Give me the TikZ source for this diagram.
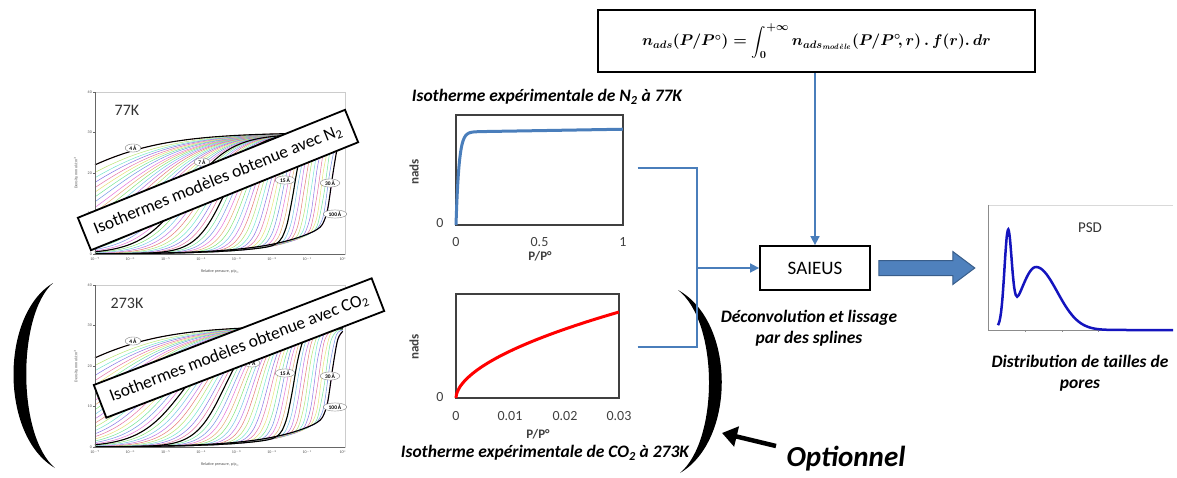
\RequirePackage{fix-cm}
\documentclass[tikz,border=0pt]{standalone}
\usepackage[no-math]{fontspec}
\newfontfamily\calibri{Carlito}
\usepackage{amsmath}
\usepackage{tikz}
\usetikzlibrary{shapes.geometric, positioning, arrows.meta, calc}
\definecolor{linkblue}{RGB}{74,126,187}
\definecolor{arrowfill}{RGB}{79,129,189}
\definecolor{arrowedge}{RGB}{56,93,138}
\definecolor{psdblue}{RGB}{20,20,190}
\newcommand\fsz[1]{\fontsize{#1}{#1}\selectfont}
\newsavebox\adsbox

\begin{document}
\sbox\adsbox{\fsz{15.5}\boldmath$n_{ads}(P/P^{\circ}) = \displaystyle\int_0^{+\infty} n_{ads_{\mathit{mod\grave{e}le}}}(P/P^{\circ}\!,r)\,.\,f(r).\,dr$}%
\begin{tikzpicture}[x=1pt, y=-1pt,
    declare function={lg(\za)=1/(1+exp(-max(-9,min(9,\za))));
      isostep(\ta)=-1.5+8.2*\ta^0.7; isow(\ta)=1.4*(1-\ta)^2+0.08;
      iso(\xa,\ta)=(30-\ta)*lg((\xa-isostep(\ta))/isow(\ta))
        +10*\ta^1.3*exp((\xa-7)/1.4)*(1-lg((\xa-isostep(\ta))/isow(\ta)));},
    link/.style={draw=linkblue, line width=1.6},
    tinytxt/.style={font=\calibri\fsz{4}, text=black!70, inner sep=1},
    poreoval/.style={ellipse, draw=gray, fill=white, inner xsep=2, inner ysep=0.5, font=\calibri\bfseries\fsz{5.5}},
    modelbox/.style={draw, line width=1.8, fill=white, inner xsep=11, minimum height=35, font=\calibri\fsz{17.5}},
    ptitle/.style={font=\calibri\bfseries\itshape\fsz{17.5}},
    ticklab/.style={font=\calibri\fsz{14}, text=black!75},
    axlab/.style={font=\calibri\bfseries\fsz{13}, text=black!75},
    plotframe/.style={draw=black!75, line width=1.3, inner sep=0},
    caption/.style={font=\calibri\bfseries\itshape\fontsize{17.5}{21}\selectfont, align=center},
    bigarrow/.style={fill=arrowfill, draw=arrowedge, line width=1},
]
\useasboundingbox (0,0) rectangle (1177,477);

% model isotherm families
\foreach \oy/\temp/\sevx/\sevy in {0/77K/202/162, 193/273K/252/170} {
  \begin{scope}[shift={(0,\oy)}]
    \draw[black!20] (95,92) rectangle (345,254);
    \foreach \k in {0,...,60} {
      \pgfmathsetmacro\chue{mod(\k*0.231,1)}
      \definecolor{isoc}{hsb}{\chue,0.5,0.9}
      \draw[isoc, line width=0.5] plot[domain=0:7, samples=40, smooth] ({95+35.4*\x}, {254-4.05*iso(\x,\k/60)});
    }
    \foreach \k in {0,22,31,49,60}
      \draw[black, line width=1.1] plot[domain=0:7, samples=50, smooth] ({95+35.4*\x}, {254-4.05*iso(\x,\k/60)});
    \draw[black!60] (95,92) -- (95,254) -- (345,254);
    \foreach \v [count=\i from 0] in {0,10,20,30,40} {
      \draw[black!60] (93,{254-4.05*\v}) -- (95,{254-4.05*\v});
      \node[tinytxt, left] (yt\oy-\i) at (93,{254-4.05*\v}) {\v};
    }
    \foreach \e [count=\i from 0] in {-7,...,0}
      \node[tinytxt, below] (xt\oy-\i) at ({95+35.4*\i},256) {10$^{\e}$};
    \node[tinytxt, rotate=90] (ylab\oy) at (76,173) {Density, mmol/cm$^3$};
    \node[tinytxt] (xlab\oy) at (220,272) {Relative pressure, p/p$_0$};
    \foreach \lab/\px/\py in {4/133/148, 7/\sevx/\sevy, 15/285/180, 30/330/183, 100/335/214}
      \node[poreoval] (pore\lab-\oy) at (\px,\py) {\lab\,Å};
    \node[font=\calibri\fsz{16}, text=black!80] (temp\oy) at (127,110) {\temp};
  \end{scope}
}
\node[modelbox, rotate=22] (modn2) at (218,180) {Isothermes modèles obtenue avec N\textsubscript{2}};
\node[modelbox, rotate=21] (modco2) at (239,348) {Isothermes modèles obtenue avec CO\textsubscript{2}};

% parentheses
\fill (53,283) .. controls (0,315) and (0,436) .. (55,468) .. controls (17,436) and (17,315) .. (53,283) -- cycle;
\fill (678,290) .. controls (736,322) and (736,440) .. (680,473) .. controls (719,440) and (719,322) .. (678,290) -- cycle;

% experimental isotherms
\node[plotframe, minimum width=167, minimum height=110] (n2plot) at (539.5,170) {};
\draw[linkblue, line width=3] plot[domain=0:1, samples=60, smooth] ({456+167*\x*\x}, {225-93*(1-exp(-min(\x*\x/0.018,9))+0.03*\x*\x)});
\node[ptitle] (n2title) at (547,97) {Isotherme expérimentale de N\textsubscript{2} à 77K};
\node[ticklab, left] (n2y0) at (447,223) {0};
\foreach \v/\px [count=\i] in {0/456, 0.5/539.5, 1/623}
  \node[ticklab] (n2x\i) at (\px,242) {\v};
\node[axlab] (n2xlab) at (540,256) {P/P°};
\node[axlab, rotate=90] (n2ylab) at (414,172) {nads};

\node[plotframe, minimum width=163, minimum height=104] (co2plot) at (537.5,346) {};
\draw[red, line width=3] (456,398) -- plot[domain=0.05:1, samples=40, smooth] ({456+163*\x*\x}, {398-86*\x^1.1});
\node[ptitle] (co2title) at (545,453) {Isotherme expérimentale de CO\textsubscript{2} à 273K};
\node[ticklab, left] (co2y0) at (447,397) {0};
\foreach \v/\px [count=\i] in {0/456, 0.01/510, 0.02/565, 0.03/619}
  \node[ticklab] (co2x\i) at (\px,416) {\v};
\node[axlab] (co2xlab) at (538,434) {P/P°};
\node[axlab, rotate=90] (co2ylab) at (414,347) {nads};

% formula and SAIEUS
\node[draw, line width=2, minimum width=437, minimum height=62] (formula) at (816.5,41) {\usebox\adsbox};
\node[draw, line width=1.8, minimum width=110, minimum height=44, font=\calibri\fsz{19}] (saieus) at (815,268) {SAIEUS};
\node[caption] (deconv) at (809,328) {Déconvolution et lissage\\par des splines};

\coordinate (jct) at (697,268);
\draw[link] ($(n2plot.east)+(14,-2)$) -| (jct);
\draw[link] ($(co2plot.east)+(18,1)$) -| (jct);
\draw[link, -{Triangle[length=9pt,width=9pt]}] (jct) -- (jct -| saieus.west);
\draw[link, -{Triangle[length=9pt,width=9pt]}] (formula.south -| saieus) -- (saieus.north);

% pore size distribution
\node[minimum width=184, minimum height=125, inner sep=0] (psdplot) at (1081,267.5) {};
\path (saieus.east) ++(8,0) coordinate (bigtail);
\coordinate (bighead) at ($(psdplot.west |- saieus.east)+(-14,0)$);
\filldraw[bigarrow] ($(bigtail)+(0,-7.5)$) -- ($(bighead)+(-22,-7.5)$) -- ($(bighead)+(-22,-16.5)$) -- (bighead)
  -- ($(bighead)+(-22,16.5)$) -- ($(bighead)+(-22,7.5)$) -- ($(bigtail)+(0,7.5)$) -- cycle;
\draw[black!15] (psdplot.north west) -- (psdplot.north east);
\draw[black!45, line width=0.8] (psdplot.north west) -- (psdplot.south west) -- (psdplot.south east);
\foreach \tx in {1025,1062,1098}
  \draw[black!45] (\tx,330) -- (\tx,332);
\node[font=\calibri\fsz{15}, text=black!80] (psdlab) at (1090,228) {PSD};
\draw[psdblue, line width=2.5] plot[domain=-3:172, samples=120, smooth]
  ({1001+\x}, {330-88*exp(-((\x-7)/5)^2)-63*exp(-((\x-35)/(22+8*(\x>35)))^2)});
\node[caption] (psdcap) at (1080,373) {Distribution de tailles de\\pores};

% optional CO2 branch
\node[font=\calibri\bfseries\itshape\fsz{29}] (optn) at (846,459) {Optionnel};
\coordinate (opttail) at (776,446);
\coordinate (optarr) at (722,433);
\draw[line width=4.5, -{Triangle[length=15pt,width=20pt]}] (opttail) -- (optarr);
\end{tikzpicture}
\end{document}
